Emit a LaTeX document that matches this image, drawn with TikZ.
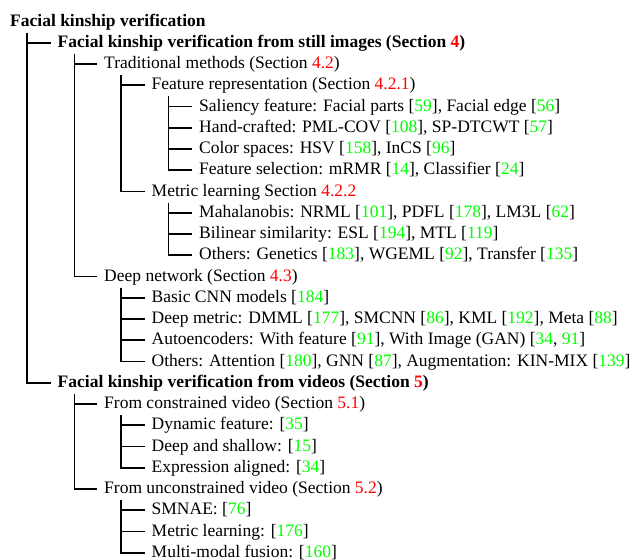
\documentclass[tikz,border=0pt]{standalone}
\usepackage{fontspec}
\setmainfont{Liberation Serif}
\definecolor{secred}{RGB}{255,0,0}
\definecolor{citegreen}{RGB}{0,255,0}
\newcommand{\sref}[1]{\textcolor{secred}{#1}}
\newcommand{\cit}[1]{\textcolor{citegreen}{#1}}
\newcommand{\conn}[2]{\draw[treeline] ([shift={(17,6.5)}]#1.base west) |- ([shift={(-7,-4.5)}]#2.base west);}
\tikzset{
  item/.style={anchor=base west, inner sep=0pt, font=\fontsize{17.5}{21}\selectfont},
  treeline/.style={line width=1.8pt, line join=miter},
}
\begin{document}
\begin{tikzpicture}[x=1pt,y=-1pt]
\useasboundingbox (0,0) rectangle (633,560);
\def\yy#1{26+21.25*#1}
\node[item] (r0) at (10,{\yy{0}}) {\textbf{Facial kinship verification}};
\node[item] (a1) at (57.5,{\yy{1}}) {\textbf{Facial kinship verification from still images (Section \sref{4})}};
\node[item] (b1) at (104,{\yy{2}}) {Traditional methods (Section \sref{4.2})};
\node[item] (c1) at (151.5,{\yy{3}}) {Feature representation (Section \sref{4.2.1})};
\node[item] (d1) at (199,{\yy{4}}) {Saliency feature: Facial parts [\cit{59}], Facial edge [\cit{56}]};
\node[item] (d2) at (199,{\yy{5}}) {Hand-crafted: PML-COV [\cit{108}], SP-DTCWT [\cit{57}]};
\node[item] (d3) at (199,{\yy{6}}) {Color spaces: HSV [\cit{158}], InCS [\cit{96}]};
\node[item] (d4) at (199,{\yy{7}}) {Feature selection: mRMR [\cit{14}], Classifier [\cit{24}]};
\node[item] (c2) at (151.5,{\yy{8}}) {Metric learning Section \sref{4.2.2}};
\node[item] (d5) at (199,{\yy{9}}) {Mahalanobis: NRML [\cit{101}], PDFL [\cit{178}], LM3L [\cit{62}]};
\node[item] (d6) at (199,{\yy{10}}) {Bilinear similarity: ESL [\cit{194}], MTL [\cit{119}]};
\node[item] (d7) at (199,{\yy{11}}) {Others: Genetics [\cit{183}], WGEML [\cit{92}], Transfer [\cit{135}]};
\node[item] (b2) at (104,{\yy{12}}) {Deep network (Section \sref{4.3})};
\node[item] (c3) at (151.5,{\yy{13}}) {Basic CNN models [\cit{184}]};
\node[item] (c4) at (151.5,{\yy{14}}) {Deep metric: DMML [\cit{177}], SMCNN [\cit{86}], KML [\cit{192}], Meta [\cit{88}]};
\node[item] (c5) at (151.5,{\yy{15}}) {Autoencoders: With feature [\cit{91}], With Image (GAN) [\cit{34}, \cit{91}]};
\node[item] (c6) at (151.5,{\yy{16}}) {Others: Attention [\cit{180}], GNN [\cit{87}], Augmentation: KIN-MIX [\cit{139}]};
\node[item] (a2) at (57.5,{\yy{17}}) {\textbf{Facial kinship verification from videos (Section \sref{5})}};
\node[item] (b3) at (104,{\yy{18}}) {From constrained video (Section \sref{5.1})};
\node[item] (c7) at (151.5,{\yy{19}}) {Dynamic feature: [\cit{35}]};
\node[item] (c8) at (151.5,{\yy{20}}) {Deep and shallow: [\cit{15}]};
\node[item] (c9) at (151.5,{\yy{21}}) {Expression aligned: [\cit{34}]};
\node[item] (b4) at (104,{\yy{22}}) {From unconstrained video (Section \sref{5.2})};
\node[item] (c10) at (151.5,{\yy{23}}) {SMNAE: [\cit{76}]};
\node[item] (c11) at (151.5,{\yy{24}}) {Metric learning: [\cit{176}]};
\node[item] (c12) at (151.5,{\yy{25}}) {Multi-modal fusion: [\cit{160}]};
\conn{r0}{a1}\conn{r0}{a2}
\conn{a1}{b1}\conn{a1}{b2}
\conn{b1}{c1}\conn{b1}{c2}
\conn{c1}{d1}\conn{c1}{d2}\conn{c1}{d3}\conn{c1}{d4}
\conn{c2}{d5}\conn{c2}{d6}\conn{c2}{d7}
\conn{b2}{c3}\conn{b2}{c4}\conn{b2}{c5}\conn{b2}{c6}
\conn{a2}{b3}\conn{a2}{b4}
\conn{b3}{c7}\conn{b3}{c8}\conn{b3}{c9}
\conn{b4}{c10}\conn{b4}{c11}\conn{b4}{c12}
\end{tikzpicture}
\end{document}
